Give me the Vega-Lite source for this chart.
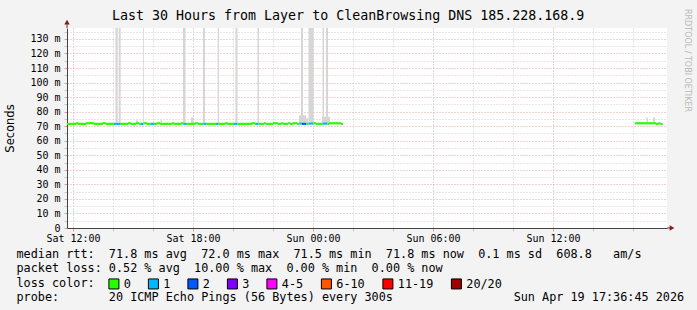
{
  "$schema": "https://vega.github.io/schema/vega-lite/v6.json",
  "width": 600,
  "height": 200,
  "autosize": {"type": "none"},
  "padding": {"left": 67, "top": 28, "right": 30, "bottom": 82},
  "background": "#f3f3f3",
  "title": {"text": "Last 30 Hours from Layer to CleanBrowsing DNS 185.228.168.9", "anchor": "start", "frame": "group", "dx": 45, "dy": 19, "offset": 5, "fontSize": 13.3, "font": "DejaVu Sans Mono", "fontWeight": "normal", "color": "#000000"},
  "datasets": {
    "median": [
      {"t0": 11.70, "t1": 12.15, "rtt": 71.6, "loss": "0"},
      {"t0": 12.15, "t1": 12.25, "rtt": 71.9, "loss": "0"},
      {"t0": 12.25, "t1": 12.65, "rtt": 71.6, "loss": "0"},
      {"t0": 12.65, "t1": 13.05, "rtt": 72.0, "loss": "0"},
      {"t0": 13.05, "t1": 13.50, "rtt": 71.6, "loss": "0"},
      {"t0": 13.50, "t1": 13.65, "rtt": 72.0, "loss": "0"},
      {"t0": 13.65, "t1": 14.05, "rtt": 71.6, "loss": "0"},
      {"t0": 14.05, "t1": 14.35, "rtt": 71.6, "loss": "1"},
      {"t0": 14.35, "t1": 14.75, "rtt": 71.6, "loss": "0"},
      {"t0": 14.75, "t1": 14.90, "rtt": 72.0, "loss": "0"},
      {"t0": 14.90, "t1": 15.15, "rtt": 71.6, "loss": "0"},
      {"t0": 15.15, "t1": 15.30, "rtt": 72.0, "loss": "0"},
      {"t0": 15.30, "t1": 15.40, "rtt": 71.6, "loss": "0"},
      {"t0": 15.40, "t1": 15.525, "rtt": 71.6, "loss": "1"},
      {"t0": 15.525, "t1": 15.70, "rtt": 72.0, "loss": "0"},
      {"t0": 15.70, "t1": 15.90, "rtt": 71.6, "loss": "0"},
      {"t0": 15.90, "t1": 16.05, "rtt": 71.6, "loss": "1"},
      {"t0": 16.05, "t1": 16.20, "rtt": 71.6, "loss": "0"},
      {"t0": 16.20, "t1": 16.35, "rtt": 72.0, "loss": "0"},
      {"t0": 16.35, "t1": 16.95, "rtt": 71.6, "loss": "0"},
      {"t0": 16.95, "t1": 17.05, "rtt": 72.0, "loss": "0"},
      {"t0": 17.05, "t1": 17.40, "rtt": 71.6, "loss": "0"},
      {"t0": 17.40, "t1": 17.515, "rtt": 72.0, "loss": "0"},
      {"t0": 17.515, "t1": 17.65, "rtt": 71.6, "loss": "1"},
      {"t0": 17.65, "t1": 18.10, "rtt": 71.6, "loss": "0"},
      {"t0": 18.10, "t1": 18.25, "rtt": 72.0, "loss": "0"},
      {"t0": 18.25, "t1": 18.515, "rtt": 71.6, "loss": "0"},
      {"t0": 18.515, "t1": 18.65, "rtt": 71.6, "loss": "1"},
      {"t0": 18.65, "t1": 19.15, "rtt": 71.6, "loss": "0"},
      {"t0": 19.15, "t1": 19.285, "rtt": 71.6, "loss": "1"},
      {"t0": 19.285, "t1": 19.60, "rtt": 71.6, "loss": "0"},
      {"t0": 19.60, "t1": 19.75, "rtt": 71.9, "loss": "0"},
      {"t0": 19.75, "t1": 20.05, "rtt": 71.6, "loss": "0"},
      {"t0": 20.05, "t1": 20.215, "rtt": 71.6, "loss": "1"},
      {"t0": 20.215, "t1": 20.95, "rtt": 71.6, "loss": "0"},
      {"t0": 20.95, "t1": 21.10, "rtt": 72.0, "loss": "0"},
      {"t0": 21.10, "t1": 21.15, "rtt": 71.6, "loss": "0"},
      {"t0": 21.15, "t1": 21.285, "rtt": 71.6, "loss": "1"},
      {"t0": 21.285, "t1": 21.55, "rtt": 71.6, "loss": "0"},
      {"t0": 21.55, "t1": 21.65, "rtt": 72.0, "loss": "0"},
      {"t0": 21.65, "t1": 22.00, "rtt": 71.6, "loss": "0"},
      {"t0": 22.00, "t1": 22.25, "rtt": 72.0, "loss": "0"},
      {"t0": 22.25, "t1": 22.40, "rtt": 71.6, "loss": "0"},
      {"t0": 22.40, "t1": 22.50, "rtt": 72.0, "loss": "0"},
      {"t0": 22.50, "t1": 22.75, "rtt": 71.6, "loss": "0"},
      {"t0": 22.75, "t1": 22.85, "rtt": 72.0, "loss": "0"},
      {"t0": 22.85, "t1": 23.00, "rtt": 71.6, "loss": "0"},
      {"t0": 23.00, "t1": 23.20, "rtt": 72.0, "loss": "0"},
      {"t0": 23.20, "t1": 23.315, "rtt": 71.6, "loss": "0"},
      {"t0": 23.315, "t1": 23.435, "rtt": 71.8, "loss": "1"},
      {"t0": 23.435, "t1": 23.65, "rtt": 71.6, "loss": "2"},
      {"t0": 23.65, "t1": 23.765, "rtt": 71.6, "loss": "0"},
      {"t0": 23.765, "t1": 24.015, "rtt": 71.8, "loss": "1"},
      {"t0": 24.015, "t1": 24.15, "rtt": 72.0, "loss": "0"},
      {"t0": 24.15, "t1": 24.485, "rtt": 71.6, "loss": "0"},
      {"t0": 24.485, "t1": 24.715, "rtt": 71.8, "loss": "1"},
      {"t0": 24.715, "t1": 24.80, "rtt": 71.6, "loss": "0"},
      {"t0": 24.80, "t1": 25.40, "rtt": 72.0, "loss": "0"},
      {"t0": 25.40, "t1": 25.50, "rtt": 71.6, "loss": "0"},
      {"t0": 40.10, "t1": 41.15, "rtt": 72.0, "loss": "0"},
      {"t0": 41.15, "t1": 41.25, "rtt": 71.6, "loss": "0"},
      {"t0": 41.25, "t1": 41.385, "rtt": 71.9, "loss": "0"},
      {"t0": 41.385, "t1": 41.485, "rtt": 71.5, "loss": "0"}
    ],
    "smoke": [
      {"t0": 14.125, "t1": 14.235, "lo": 72.3, "hi": 250},
      {"t0": 14.285, "t1": 14.385, "lo": 72.3, "hi": 250},
      {"t0": 15.50, "t1": 15.54, "lo": 72.3, "hi": 250},
      {"t0": 17.50, "t1": 17.625, "lo": 72.3, "hi": 250},
      {"t0": 18.50, "t1": 18.60, "lo": 72.3, "hi": 250},
      {"t0": 19.235, "t1": 19.30, "lo": 72.3, "hi": 250},
      {"t0": 20.125, "t1": 20.225, "lo": 72.3, "hi": 250},
      {"t0": 21.225, "t1": 21.30, "lo": 72.3, "hi": 250},
      {"t0": 23.40, "t1": 23.50, "lo": 72.3, "hi": 250},
      {"t0": 23.775, "t1": 24.025, "lo": 72.3, "hi": 250},
      {"t0": 24.475, "t1": 24.55, "lo": 72.3, "hi": 250},
      {"t0": 24.65, "t1": 24.75, "lo": 72.3, "hi": 250},
      {"t0": 15.15, "t1": 15.25, "lo": 72.3, "hi": 74.0},
      {"t0": 16.375, "t1": 16.45, "lo": 72.3, "hi": 74.5},
      {"t0": 17.90, "t1": 18.025, "lo": 72.3, "hi": 76.0},
      {"t0": 23.30, "t1": 23.65, "lo": 72.3, "hi": 77.5},
      {"t0": 23.65, "t1": 23.75, "lo": 72.3, "hi": 75.5},
      {"t0": 24.45, "t1": 24.85, "lo": 72.3, "hi": 76.5},
      {"t0": 40.675, "t1": 40.75, "lo": 72.3, "hi": 76.0},
      {"t0": 41.00, "t1": 41.10, "lo": 72.3, "hi": 76.0}
    ]
  },
  "resolve": {"axis": {"y": "independent"}},
  "layer": [
    {
      "data": {"name": "smoke"},
      "mark": {"type": "rect", "color": "#d6d6d6", "clip": true},
      "encoding": {
        "x": {
          "field": "t0", "type": "quantitative",
          "scale": {"domain": [11.7, 41.7], "nice": false, "zero": false},
          "axis": {
            "values": [12,13,14,15,16,17,18,19,20,21,22,23,24,25,26,27,28,29,30,31,32,33,34,35,36,37,38,39,40,41],
            "labelExpr": "datum.value == 12 ? 'Sat 12:00' : datum.value == 18 ? 'Sat 18:00' : datum.value == 24 ? 'Sun 00:00' : datum.value == 30 ? 'Sun 06:00' : datum.value == 36 ? 'Sun 12:00' : ''",
            "labelFont": "DejaVu Sans Mono", "labelFontSize": 10, "labelColor": "#000000", "labelPadding": 2,
            "labelOverlap": false, "labelFlush": false, "labelBound": false,
            "tickSize": 3,
            "tickColor": {"condition": {"test": "datum.value % 3 == 0", "value": "#e39a9a"}, "value": "#c8c8c8"},
            "gridColor": {"condition": {"test": "datum.value % 3 == 0", "value": "#e3a3a3"}, "value": "#cfcfcf"},
            "gridDash": [1, 2], "gridWidth": 1,
            "domainColor": "#444444", "domainWidth": 1,
            "title": [
              "median rtt:\u00a0\u00a071.8\u00a0ms\u00a0avg\u00a0\u00a072.0\u00a0ms\u00a0max\u00a0\u00a071.5\u00a0ms\u00a0min\u00a0\u00a071.8\u00a0ms\u00a0now\u00a0\u00a00.1\u00a0ms\u00a0sd\u00a0\u00a0608.8\u00a0\u00a0\u00a0am/s",
              "packet\u00a0loss:\u00a00.52\u00a0%\u00a0avg\u00a0\u00a010.00\u00a0%\u00a0max\u00a0\u00a00.00\u00a0%\u00a0min\u00a0\u00a00.00\u00a0%\u00a0now",
              "loss\u00a0color:",
              "probe:\u00a0\u00a0\u00a0\u00a0\u00a0\u00a0\u00a020\u00a0ICMP\u00a0Echo\u00a0Pings\u00a0(56\u00a0Bytes)\u00a0every\u00a0300s\u00a0\u00a0\u00a0\u00a0\u00a0\u00a0\u00a0\u00a0\u00a0\u00a0\u00a0\u00a0\u00a0\u00a0\u00a0\u00a0\u00a0Sun\u00a0Apr\u00a019\u00a017:36:45\u00a02026"
            ],
            "titleFont": "DejaVu Sans Mono", "titleFontSize": 11.8, "titleFontWeight": "normal", "titleColor": "#000000",
            "titleLineHeight": 14.4, "titleAnchor": "start", "titleAlign": "left", "titleBaseline": "top",
            "titleX": -51, "titleY": 20.5
          }
        },
        "x2": {"field": "t1"},
        "y": {
          "field": "lo", "type": "quantitative",
          "scale": {"domain": [0, 137.5], "nice": false, "zero": true},
          "axis": {
            "values": [0,5,10,15,20,25,30,35,40,45,50,55,60,65,70,75,80,85,90,95,100,105,110,115,120,125,130,135],
            "labelExpr": "datum.value % 10 != 0 ? '' : (datum.value == 0 ? '0\u00a0\u00a0' : datum.value + '\u00a0m')",
            "labelFont": "DejaVu Sans Mono", "labelFontSize": 10, "labelColor": "#000000", "labelPadding": 4,
            "labelOverlap": false, "labelFlush": false, "labelBound": false,
            "tickSize": 3,
            "tickColor": {"condition": {"test": "datum.value % 10 == 0", "value": "#e39a9a"}, "value": "#c8c8c8"},
            "gridColor": {"condition": {"test": "datum.value % 10 == 0", "value": "#e3a3a3"}, "value": "#cfcfcf"},
            "gridDash": [1, 2], "gridWidth": 1,
            "domainColor": "#444444", "domainWidth": 1,
            "title": "Seconds", "titleFont": "DejaVu Sans", "titleFontSize": 11.5, "titleFontWeight": "normal", "titleColor": "#000000",
            "titleAngle": -90, "titleX": -57, "titleY": 100, "titleAlign": "center", "titleBaseline": "middle"
          }
        },
        "y2": {"field": "hi"}
      }
    },
    {
      "data": {"name": "median"},
      "mark": {"type": "rect", "yOffset": 1.1, "y2Offset": -1.1},
      "encoding": {
        "x": {"field": "t0", "type": "quantitative", "scale": {"domain": [11.7, 41.7], "nice": false, "zero": false}},
        "x2": {"field": "t1"},
        "y": {
          "field": "rtt", "type": "quantitative",
          "scale": {"domain": [0, 137.5], "nice": false, "zero": true},
          "axis": {
            "orient": "right", "labels": false, "ticks": false, "domain": false, "grid": false,
            "title": "RRDTOOL / TOBI OETIKER", "titleAngle": 90, "titleX": 19, "titleY": 32,
            "titleAlign": "center", "titleBaseline": "middle", "titleFont": "DejaVu Sans", "titleFontSize": 8,
            "titleFontWeight": "normal", "titleColor": "#b8b8b8"
          }
        },
        "y2": {"field": "rtt"},
        "color": {
          "field": "loss", "type": "nominal",
          "scale": {
            "domain": ["0", "1", "2", "3", "4-5", "6-10", "11-19", "20/20"],
            "range": ["#26ff00", "#00b8ff", "#0059ff", "#7e00ff", "#ff00ff", "#ff5500", "#ff0000", "#a10000"]
          },
          "legend": {
            "orient": "none", "legendX": 41, "legendY": 250, "direction": "horizontal", "columns": 8,
            "title": null, "symbolType": "square", "symbolSize": 100, "symbolStrokeColor": "#000000",
            "symbolStrokeWidth": 1, "symbolOpacity": 1, "labelFont": "DejaVu Sans Mono", "labelFontSize": 11.8,
            "labelColor": "#000000", "labelOffset": 4, "columnPadding": 14.5, "padding": 0, "labelLimit": 200,
            "encode": {"symbols": {"update": {"stroke": {"value": "#000000"}, "strokeWidth": {"value": 1}}}}
          }
        }
      }
    },
    {
      "data": {"values": [{}]},
      "mark": {"type": "rule", "color": "#444444", "clip": false},
      "encoding": {
        "x": {"datum": 11.7, "type": "quantitative", "scale": {"domain": [11.7, 41.7], "nice": false, "zero": false}},
        "y": {"datum": 137.5, "type": "quantitative", "scale": {"domain": [0, 137.5], "nice": false, "zero": true}, "axis": null},
        "y2": {"datum": 141.5}
      }
    },
    {
      "data": {"values": [{}]},
      "mark": {"type": "point", "shape": "triangle-up", "filled": true, "color": "#8b1a1a", "opacity": 1, "size": 30, "clip": false},
      "encoding": {
        "x": {"datum": 11.7, "type": "quantitative", "scale": {"domain": [11.7, 41.7], "nice": false, "zero": false}},
        "y": {"datum": 141.5, "type": "quantitative", "scale": {"domain": [0, 137.5], "nice": false, "zero": true}, "axis": null}
      }
    },
    {
      "data": {"values": [{}]},
      "mark": {"type": "rule", "color": "#444444", "clip": false},
      "encoding": {
        "x": {"datum": 41.7, "type": "quantitative", "scale": {"domain": [11.7, 41.7], "nice": false, "zero": false}},
        "x2": {"datum": 41.95},
        "y": {"datum": 0, "type": "quantitative", "scale": {"domain": [0, 137.5], "nice": false, "zero": true}, "axis": null}
      }
    },
    {
      "data": {"values": [{}]},
      "mark": {"type": "point", "shape": "triangle-right", "filled": true, "color": "#8b1a1a", "opacity": 1, "size": 30, "clip": false},
      "encoding": {
        "x": {"datum": 41.95, "type": "quantitative", "scale": {"domain": [11.7, 41.7], "nice": false, "zero": false}},
        "y": {"datum": 0, "type": "quantitative", "scale": {"domain": [0, 137.5], "nice": false, "zero": true}, "axis": null}
      }
    }
  ],
  "config": {
    "view": {"stroke": null, "fill": "#ffffff"},
    "font": "DejaVu Sans Mono"
  }
}
